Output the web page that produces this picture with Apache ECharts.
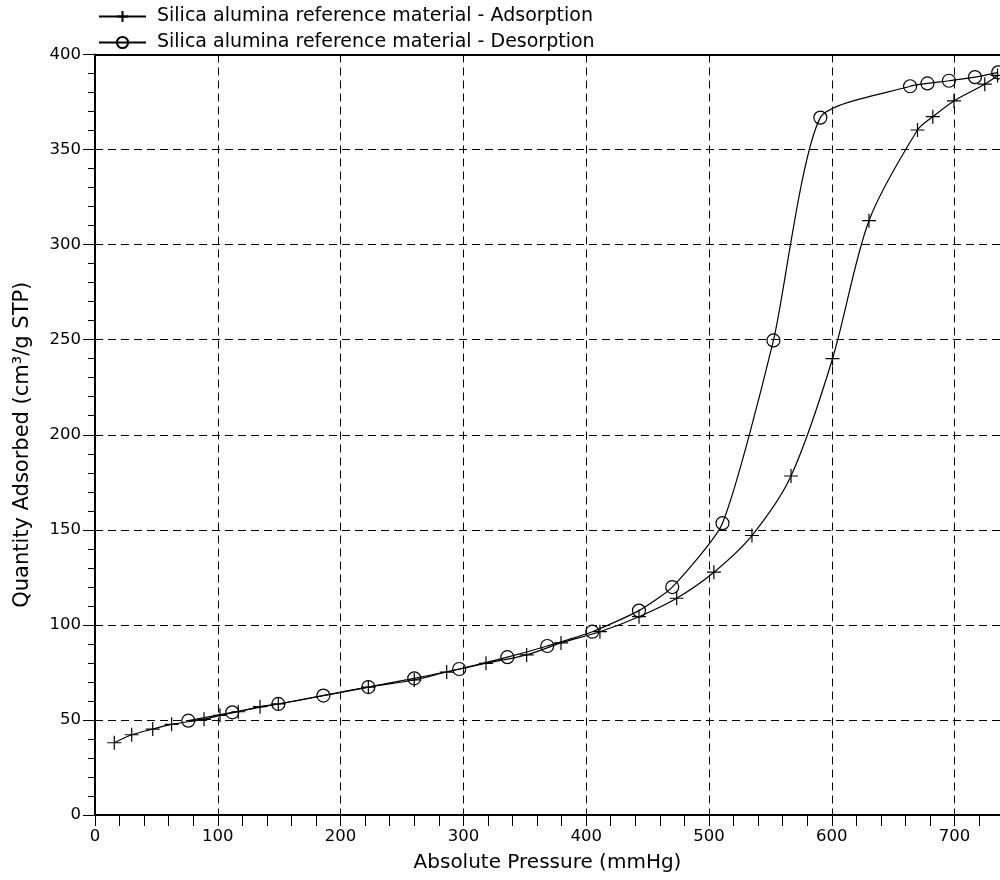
<!DOCTYPE html>
<html>
<head>
<meta charset="utf-8">
<script src="https://cdn.jsdelivr.net/npm/echarts@6/dist/echarts.min.js"></script>
<style>
  html, body { margin: 0; padding: 0; background: #fff; }
  #chart { width: 1000px; height: 880px; }
</style>
</head>
<body>
<div id="chart"></div>
<script>
// adsorption branch (pressure mmHg, quantity cm3/g STP)
const adsPressure = [15.7, 29.9, 47, 62.4, 88.8, 101.8, 116.7, 134.4, 149.3, 222.6, 260, 286.4, 318.4, 351.5, 379.5, 411.2, 443, 473.7, 504, 535, 566.8, 600.6, 630.3, 669.8, 682.3, 699.5, 724.6, 735]
const adsQuantity = [38.0, 42.2, 45.2, 47.7, 50.3, 52.4, 54.3, 57.0, 58.4, 67.3, 71.0, 75.2, 79.8, 84.2, 90.5, 96.4, 104.3, 114.0, 127.7, 147.0, 178.3, 240.0, 312.6, 360.3, 367.3, 375.6, 384.4, 389.0]

// desorption branch
const desPressure = [76, 111.8, 149.3, 186, 222.6, 260, 296.6, 335.8, 368.3, 405, 443, 470.1, 511, 552.5, 590.7, 663.8, 677.9, 695.4, 716.6, 735.6]
const desQuantity = [49.6, 54.0, 58.4, 62.8, 67.3, 71.9, 76.8, 83.0, 88.9, 96.4, 107.5, 119.9, 153.5, 249.6, 366.8, 383.3, 384.8, 386.2, 388.1, 390.6]

const xTicks = [0, 100, 200, 300, 400, 500, 600, 700]
const seriesNames = ['Silica alumina reference material - Adsorption', 'Silica alumina reference material - Desorption']

const font = 'DejaVu Sans, Liberation Sans, Arial, sans-serif'
const plusSymbol = 'path://M0,7L14,7M7,0L7,14'

const myChart = echarts.init(document.getElementById('chart'), null, { renderer: 'canvas' })

const pairs = (xs, ys) => xs.map((x, i) => [x, ys[i]])

myChart.setOption({
  animation: false,
  backgroundColor: '#fff',
  textStyle: { fontFamily: font, color: '#000' },
  legend: {
    left: 93,
    top: 2,
    orient: 'vertical',
    itemWidth: 47,
    itemHeight: 14,
    itemGap: 7,
    textStyle: { fontSize: 19, color: '#000', fontFamily: font, padding: [0, 0, 0, 6] },
    data: seriesNames,
  },
  grid: {
    left: 95,
    right: 0,
    top: 54.5,
    bottom: 65,
    containLabel: false,
  },
  xAxis: [
    {
      type: 'value',
      min: 0,
      max: 737,
      interval: 100,
      name: 'Absolute Pressure (mmHg)',
      nameLocation: 'middle',
      nameGap: 38,
      nameTextStyle: { fontSize: 20, color: '#000', fontFamily: font },
      axisLine: { show: true, lineStyle: { color: '#000', width: 2 } },
      axisTick: { show: true, length: 11, lineStyle: { color: '#000', width: 1 } },
      minorTick: { show: true, splitNumber: 5, length: 11, lineStyle: { color: '#000', width: 1 } },
      axisLabel: {
        fontSize: 16.5,
        color: '#000',
        margin: 13,
        showMaxLabel: false,
        formatter: (v) => (xTicks.includes(v) ? String(v) : ''),
      },
      splitLine: { show: true, lineStyle: { color: '#000', width: 1, type: [8, 5] } },
    },
    {
      // top frame line
      type: 'value',
      position: 'top',
      min: 0,
      max: 737,
      axisLine: { show: true, lineStyle: { color: '#000', width: 2 } },
      axisTick: { show: false },
      axisLabel: { show: false },
      splitLine: { show: false },
    },
  ],
  yAxis: {
    type: 'value',
    min: 0,
    max: 400,
    interval: 50,
    name: 'Quantity Adsorbed (cm³/g STP)',
    nameLocation: 'middle',
    nameGap: 62,
    nameTextStyle: { fontSize: 21, color: '#000', fontFamily: font, padding: [0, 20, 0, 0] },
    axisLine: { show: true, lineStyle: { color: '#000', width: 2 } },
    axisTick: { show: true, length: 12, lineStyle: { color: '#000', width: 1 } },
    minorTick: { show: true, splitNumber: 5, length: 7, lineStyle: { color: '#000', width: 1 } },
    axisLabel: { fontSize: 16.5, color: '#000', margin: 14 },
    splitLine: { show: true, lineStyle: { color: '#000', width: 1, type: [8, 5] } },
  },
  series: [
    {
      name: seriesNames[0],
      type: 'line',
      data: pairs(adsPressure, adsQuantity),
      smooth: 0.3,
      symbol: plusSymbol,
      symbolSize: 14,
      showAllSymbol: true,
      lineStyle: { color: '#000', width: 1.2 },
      itemStyle: { color: '#000', borderColor: '#000', borderWidth: 1.2 },
      z: 3,
    },
    {
      name: seriesNames[1],
      type: 'line',
      data: pairs(desPressure, desQuantity),
      smooth: 0.2,
      symbol: 'circle',
      symbolSize: 13,
      showAllSymbol: true,
      lineStyle: { color: '#000', width: 1.2 },
      itemStyle: { color: 'transparent', borderColor: '#000', borderWidth: 1.2 },
      z: 3,
    },
  ],
})
</script>
</body>
</html>
